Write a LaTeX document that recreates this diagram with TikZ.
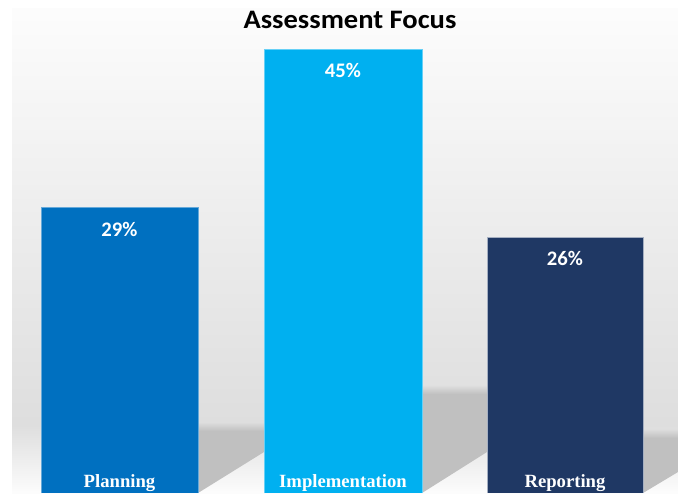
\documentclass[tikz,border=0pt]{standalone}
\usepackage{fontspec}
\newfontfamily\calfont{Carlito}
\newfontfamily\tmsfont{Liberation Serif}
\definecolor{cPlan}{RGB}{0,112,192}
\definecolor{cImpl}{RGB}{0,176,240}
\definecolor{cRep}{RGB}{31,56,100}
\definecolor{shad}{RGB}{192,192,192}
\tikzset{
  pct/.style={font=\calfont\bfseries\fontsize{15.5}{18}\selectfont, text=white, inner sep=0pt},
  cat/.style={font=\tmsfont\bfseries\fontsize{14}{16}\selectfont, text=white, inner sep=0pt, anchor=base},
  ttl/.style={font=\calfont\bfseries\fontsize{20}{24}\selectfont, text=black, inner sep=0pt},
}
\begin{document}
\begin{tikzpicture}[x=0.75pt,y=-0.75pt]
\useasboundingbox (0,0) rectangle (678,493);
\fill[white] (0,0) rectangle (678,493);
% panel background
\shade[top color=black!1, bottom color=black!13] (12,8) rectangle (678,425);
\shade[top color=black!13, bottom color=black!1] (12,425) rectangle (678,493);
% shadows
\fill[shad] (198,430) -- (264,430) -- (264,452) -- (198,493) -- cycle;
\shade[top color=black!13, bottom color=shad] (198,422) rectangle (264,431);
\fill[shad] (422,393) -- (487,393) -- (487,452) -- (422,493) -- cycle;
\shade[top color=black!12, bottom color=shad] (422,385) rectangle (487,394);
\fill[shad] (643,437) -- (678,437) -- (678,472) -- (643,493) -- cycle;
\shade[top color=black!13, bottom color=shad] (643,429) rectangle (678,438);
% bars
\fill[cPlan] (41,207) rectangle (198,493);
\draw[cPlan!60!white, line width=0.6pt] (41,493) -- (41,207) -- (198,207) -- (198,493);
\fill[cImpl] (264,49) rectangle (422,493);
\draw[cImpl!60!white, line width=0.6pt] (264,493) -- (264,49) -- (422,49) -- (422,493);
\fill[cRep] (487,237) rectangle (643,493);
\draw[cRep!40!white, line width=0.6pt] (487,493) -- (487,237) -- (643,237) -- (643,493);
% title
\node[ttl] (title) at (350,20) {\scalebox{1.07}[1]{Assessment Focus}};
% value labels
\node[pct] (v1) at (119.5,229) {29\%};
\node[pct] (v2) at (343,70) {45\%};
\node[pct] (v3) at (565,258) {26\%};
% category labels
\node[cat] (c1) at (119.5,487) {Planning};
\node[cat] (c2) at (343,487) {Implementation};
\node[cat] (c3) at (565,487) {Reporting};
\end{tikzpicture}
\end{document}
